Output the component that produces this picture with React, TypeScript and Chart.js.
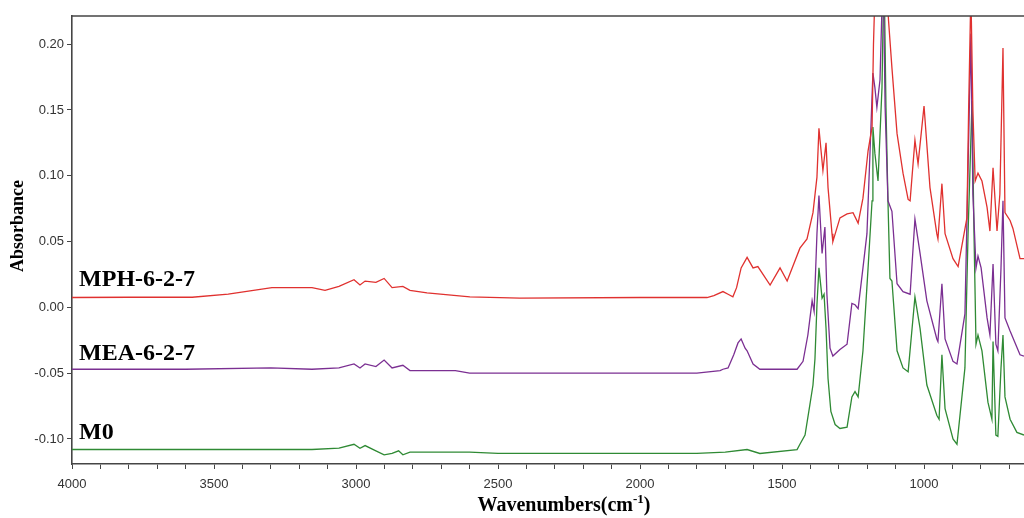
import React, { useEffect, useRef } from "react";
import { Chart, registerables } from "chart.js";

Chart.register(...registerables);

// FTIR spectra: wavenumber (cm-1) and absorbance for each sample
const mphWavenumber = [
  4000, 3800, 3577, 3450, 3296, 3155, 3109, 3060, 3007, 2986, 2968, 2930, 2901, 2873, 2835, 2810, 2750, 2599, 2423, 2000,
  1764, 1740, 1708, 1690, 1673, 1660, 1644, 1623, 1602, 1585, 1542, 1507, 1482, 1437, 1412, 1391, 1377, 1370, 1356, 1345,
  1338, 1324, 1321, 1296, 1271, 1250, 1232, 1215, 1197, 1183, 1178, 1170, 1160, 1150, 1135, 1125, 1113, 1095, 1074, 1056,
  1049, 1032, 1021, 1000, 979, 955, 951, 937, 926, 898, 880, 849, 843, 835, 828, 820, 810, 796, 778, 768,
  757, 743, 733, 722, 715, 697, 687, 662, 648,
];
const mphAbsorbance = [
  0.0075, 0.0077, 0.0077, 0.010, 0.015, 0.015, 0.013, 0.016, 0.021, 0.017, 0.020, 0.019, 0.022, 0.015, 0.016, 0.013, 0.011, 0.008, 0.007, 0.0075,
  0.0075, 0.009, 0.012, 0.010, 0.008, 0.015, 0.030, 0.038, 0.030, 0.031, 0.017, 0.030, 0.020, 0.045, 0.052, 0.072, 0.099, 0.136, 0.104, 0.125,
  0.091, 0.056, 0.050, 0.068, 0.071, 0.072, 0.064, 0.083, 0.119, 0.137, 0.200, 0.260, 0.240, 0.250, 0.260, 0.218, 0.182, 0.132, 0.102, 0.082,
  0.081, 0.127, 0.109, 0.153, 0.091, 0.056, 0.052, 0.094, 0.056, 0.037, 0.031, 0.068, 0.150, 0.240, 0.150, 0.096, 0.102, 0.096, 0.076, 0.058,
  0.106, 0.058, 0.086, 0.197, 0.072, 0.066, 0.060, 0.037, 0.037,
];

const meaWavenumber = [
  4000, 3600, 3300, 3155, 3060, 3007, 2986, 2968, 2930, 2901, 2873, 2835, 2810, 2650, 2600, 1800, 1718, 1708, 1690, 1670,
  1655, 1644, 1630, 1623, 1602, 1578, 1447, 1426, 1409, 1394, 1387, 1377, 1370, 1359, 1349, 1342, 1331, 1321, 1296, 1271,
  1254, 1243, 1232, 1215, 1201, 1190, 1180, 1173, 1166, 1155, 1144, 1137, 1127, 1113, 1095, 1074, 1049, 1032, 1014, 990,
  955, 951, 937, 926, 898, 884, 856, 845, 835, 828, 817, 810, 799, 778, 768, 757, 747, 740, 729, 722,
  715, 697, 662, 648,
];
const meaAbsorbance = [
  -0.047, -0.047, -0.046, -0.047, -0.046, -0.043, -0.046, -0.043, -0.045, -0.040, -0.046, -0.044, -0.048, -0.048, -0.050, -0.050, -0.048, -0.047, -0.046, -0.036,
  -0.027, -0.024, -0.031, -0.033, -0.043, -0.047, -0.047, -0.041, -0.021, 0.005, -0.003, 0.056, 0.085, 0.041, 0.061, 0.010, -0.031, -0.037, -0.032, -0.028,
  0.003, 0.002, -0.001, 0.030, 0.056, 0.119, 0.178, 0.167, 0.152, 0.173, 0.260, 0.152, 0.081, 0.073, 0.018, 0.012, 0.010, 0.067, 0.041, 0.005,
  -0.024, -0.026, 0.018, -0.024, -0.041, -0.043, -0.005, 0.106, 0.208, 0.086, 0.030, 0.039, 0.030, -0.008, -0.021, 0.033, -0.028, -0.033, 0.030, 0.081,
  -0.008, -0.018, -0.036, -0.037,
];

const m0Wavenumber = [
  4000, 3600, 3155, 3060, 3007, 2986, 2968, 2930, 2901, 2873, 2850, 2835, 2810, 2600, 2500, 1800, 1700, 1623, 1578, 1447,
  1437, 1419, 1402, 1391, 1384, 1377, 1370, 1359, 1352, 1345, 1338, 1328, 1313, 1296, 1271, 1254, 1243, 1232, 1215, 1197,
  1183, 1180, 1173, 1162, 1148, 1141, 1134, 1127, 1120, 1113, 1095, 1074, 1056, 1032, 1014, 990, 955, 947, 937, 926,
  898, 884, 856, 845, 831, 824, 817, 810, 796, 775, 761, 757, 747, 740, 729, 722, 715, 697, 673, 648,
];
const m0Absorbance = [
  -0.108, -0.108, -0.108, -0.107, -0.104, -0.107, -0.105, -0.109, -0.112, -0.111, -0.109, -0.112, -0.110, -0.110, -0.111, -0.111, -0.110, -0.108, -0.111, -0.108,
  -0.104, -0.097, -0.074, -0.059, -0.039, 0.002, 0.030, 0.007, 0.010, -0.016, -0.054, -0.079, -0.089, -0.092, -0.091, -0.068, -0.064, -0.068, -0.033, 0.030,
  0.081, 0.137, 0.117, 0.096, 0.167, 0.260, 0.152, 0.081, 0.022, 0.020, -0.033, -0.046, -0.049, 0.008, -0.016, -0.059, -0.082, -0.085, -0.036, -0.077,
  -0.100, -0.104, -0.046, 0.056, 0.157, 0.056, -0.028, -0.021, -0.033, -0.072, -0.085, -0.026, -0.097, -0.098, -0.046, -0.021, -0.068, -0.085, -0.095, -0.097,
];

const seriesNames = ["MPH-6-2-7", "MEA-6-2-7", "M0"];
const seriesColors = ["#e0312f", "#7b2f92", "#2f8a34"];
// label anchor: wavenumber and absorbance of each name's baseline
const labelWavenumber = [3975, 3975, 3975];
const labelAbsorbance = [0.016, -0.040, -0.100];

const xTickValues = [
  700, 800, 900, 1000, 1100, 1200, 1300, 1400, 1500, 1600, 1700, 1800, 1900, 2000, 2100, 2200, 2300, 2400, 2500, 2600,
  2700, 2800, 2900, 3000, 3100, 3200, 3300, 3400, 3500, 3600, 3700, 3800, 3900, 4000,
];
const yTickValues = [-0.1, -0.05, 0, 0.05, 0.1, 0.15, 0.2];

const X_MIN = 648;
const X_MAX = 4000;
const Y_MIN = -0.119;
const Y_MAX = 0.2214;

const toPoints = (xs: number[], ys: number[]) => xs.map((x, i) => ({ x, y: ys[i] }));

const AXIS_COLOR = "#454545";
const SERIF = "'Liberation Serif', 'Times New Roman', serif";

const annotations = {
  id: "spectrumAnnotations",
  afterDraw(chart: any) {
    const { ctx, chartArea, scales } = chart;
    ctx.save();
    // top frame line
    ctx.strokeStyle = AXIS_COLOR;
    ctx.lineWidth = 1.6;
    ctx.beginPath();
    ctx.moveTo(chartArea.left - 0.8, chartArea.top);
    ctx.lineTo(chartArea.right, chartArea.top);
    ctx.stroke();

    // sample names
    ctx.fillStyle = "#000";
    ctx.font = `bold 24px ${SERIF}`;
    ctx.textAlign = "left";
    ctx.textBaseline = "alphabetic";
    seriesNames.forEach((name, i) => {
      const px = scales.x.getPixelForValue(labelWavenumber[i]);
      const py = scales.y.getPixelForValue(labelAbsorbance[i]);
      ctx.fillText(name, px, py);
    });

    // y axis title
    ctx.save();
    ctx.translate(23, 226);
    ctx.rotate(-Math.PI / 2);
    ctx.textAlign = "center";
    ctx.textBaseline = "alphabetic";
    ctx.font = `bold 18px ${SERIF}`;
    ctx.fillText("Absorbance", 0, 0);
    ctx.restore();

    // x axis title with superscript
    const main = "Wavenumbers(cm";
    const sup = "-1";
    const tail = ")";
    const bigFont = `bold 20px ${SERIF}`;
    const supFont = `bold 13px ${SERIF}`;
    ctx.font = bigFont;
    const w1 = ctx.measureText(main).width;
    const w3 = ctx.measureText(tail).width;
    ctx.font = supFont;
    const w2 = ctx.measureText(sup).width;
    const total = w1 + w2 + w3;
    const x0 = 564 - total / 2;
    const base = 511;
    ctx.textAlign = "left";
    ctx.font = bigFont;
    ctx.fillText(main, x0, base);
    ctx.font = supFont;
    ctx.fillText(sup, x0 + w1, base - 8);
    ctx.font = bigFont;
    ctx.fillText(tail, x0 + w1 + w2, base);
    ctx.restore();
  },
};

export default function App() {
  const canvasRef = useRef<HTMLCanvasElement | null>(null);

  useEffect(() => {
    if (!canvasRef.current) return;
    const datasets = [
      toPoints(mphWavenumber, mphAbsorbance),
      toPoints(meaWavenumber, meaAbsorbance),
      toPoints(m0Wavenumber, m0Absorbance),
    ].map((data, i) => ({
      label: seriesNames[i],
      data,
      borderColor: seriesColors[i],
      backgroundColor: seriesColors[i],
      borderWidth: 1.3,
      pointRadius: 0,
      tension: 0,
      clip: 0,
    }));

    const tickFont = { family: "'Liberation Sans', Arial, sans-serif", size: 13 };

    const chart = new Chart(canvasRef.current, {
      type: "line",
      data: { datasets },
      plugins: [annotations],
      options: {
        animation: false,
        responsive: false,
        layout: { padding: { top: 16, left: 0, right: 0, bottom: 0 } },
        plugins: { legend: { display: false }, tooltip: { enabled: false } },
        scales: {
          x: {
            type: "linear",
            reverse: true,
            min: X_MIN,
            max: X_MAX,
            afterBuildTicks: (scale: any) => {
              scale.ticks = xTickValues.map((value) => ({ value }));
            },
            afterFit: (scale: any) => {
              scale.height = 54;
            },
            grid: {
              display: true,
              drawOnChartArea: false,
              drawTicks: true,
              tickLength: 5,
              color: AXIS_COLOR,
              lineWidth: 1,
            },
            border: { display: true, color: AXIS_COLOR, width: 1.6 },
            ticks: {
              autoSkip: false,
              maxRotation: 0,
              padding: 8,
              color: "#333",
              font: tickFont,
              callback: (value: any) => (Number(value) % 500 === 0 ? String(value) : ""),
            },
          },
          y: {
            type: "linear",
            min: Y_MIN,
            max: Y_MAX,
            afterBuildTicks: (scale: any) => {
              scale.ticks = yTickValues.map((value) => ({ value }));
            },
            afterFit: (scale: any) => {
              scale.width = 72;
            },
            grid: {
              display: true,
              drawOnChartArea: false,
              drawTicks: true,
              tickLength: 5,
              color: AXIS_COLOR,
              lineWidth: 1,
            },
            border: { display: true, color: AXIS_COLOR, width: 1.6 },
            ticks: {
              padding: 3,
              color: "#333",
              font: tickFont,
              callback: (value: any) => Number(value).toFixed(2),
            },
          },
        },
      },
    } as any);

    return () => chart.destroy();
  }, []);

  return (
    <div style={{ position: "absolute", left: 0, top: 0, width: 1024, height: 518, background: "#fff" }}>
      <canvas ref={canvasRef} width={1024} height={518} style={{ display: "block" }} />
    </div>
  );
}
